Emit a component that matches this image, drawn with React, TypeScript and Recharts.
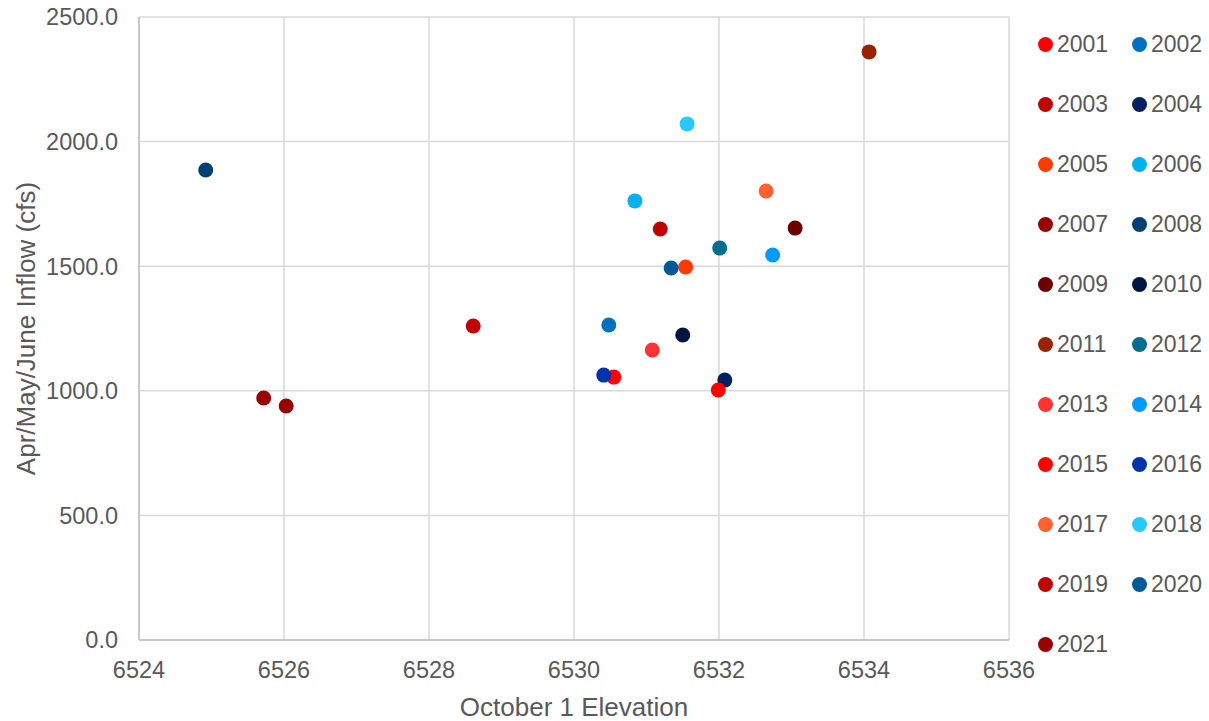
import React from "react";
import {
  ScatterChart,
  Scatter,
  XAxis,
  YAxis,
  CartesianGrid,
  Legend,
} from "recharts";

const years = [
  "2001", "2002", "2003", "2004", "2005", "2006", "2007", "2008", "2009", "2010",
  "2011", "2012", "2013", "2014", "2015", "2016", "2017", "2018", "2019", "2020", "2021",
];
const elevation = [
  6530.55, 6530.48, 6528.61, 6532.08, 6531.54, 6530.84, 6525.72, 6524.92, 6533.05, 6531.5,
  6534.07, 6532.01, 6531.08, 6532.74, 6531.99, 6530.41, 6532.65, 6531.56, 6531.19, 6531.34, 6526.03,
];
const inflow = [
  1055, 1264, 1260, 1043, 1497, 1762, 971, 1886, 1653, 1224,
  2360, 1573, 1164, 1545, 1003, 1063, 1802, 2071, 1649, 1493, 939,
];
const colors = [
  "#FF0000", "#0070C0", "#C00000", "#002060", "#FF3A00", "#00B0F0", "#990000", "#004070", "#6B0000", "#001540",
  "#992200", "#006C8E", "#FF3333", "#0099FF", "#FF0000", "#0033AA", "#FF6133", "#29C8FF", "#C00000", "#005A9A", "#990000",
];
const xTicks = [6524, 6526, 6528, 6530, 6532, 6534, 6536];
const yTicks = [0, 500, 1000, 1500, 2000, 2500];

const FONT = "'Liberation Sans', Arial, sans-serif";
const TEXT = "#595959";

const renderLegend = () => (
  <div style={{ position: "relative", width: 179, height: 660, fontFamily: FONT }}>
    {years.map((yr, i) => {
      const col = i % 2;
      const row = Math.floor(i / 2);
      return (
        <div
          key={yr}
          style={{
            position: "absolute",
            left: col * 94,
            top: row * 60,
            height: 24,
            display: "flex",
            alignItems: "center",
            whiteSpace: "nowrap",
          }}
        >
          <span
            style={{
              display: "inline-block",
              width: 15,
              height: 15,
              borderRadius: "50%",
              background: colors[i],
              marginRight: 4,
            }}
          />
          <span style={{ fontSize: 23, color: TEXT, lineHeight: "24px" }}>{yr}</span>
        </div>
      );
    })}
  </div>
);

export default function App() {
  return (
    <div style={{ position: "absolute", left: 0, top: 0, width: 1209, height: 721, background: "#fff" }}>
      <ScatterChart
        width={1209}
        height={721}
        margin={{ top: 17, right: 200, bottom: 0, left: 0 }}
        style={{ fontFamily: FONT }}
      >
        <CartesianGrid stroke="#D9D9D9" strokeWidth={1.5} />
        <XAxis
          type="number"
          dataKey="x"
          domain={[6524, 6536]}
          ticks={xTicks}
          allowDataOverflow
          height={81}
          tickLine={false}
          tickSize={0}
          tickMargin={21}
          axisLine={{ stroke: "#BFBFBF", strokeWidth: 1.5 }}
          tick={{ fill: TEXT, fontSize: 23.5 }}
          label={{
            value: "October 1 Elevation",
            position: "insideBottom",
            offset: 5,
            style: { fill: TEXT, fontSize: 26, textAnchor: "middle" },
          }}
        />
        <YAxis
          type="number"
          dataKey="y"
          domain={[0, 2500]}
          ticks={yTicks}
          allowDataOverflow
          width={139}
          tickLine={false}
          tickSize={0}
          tickMargin={21}
          axisLine={{ stroke: "#BFBFBF", strokeWidth: 1.5 }}
          tick={{ fill: TEXT, fontSize: 23.5 }}
          tickFormatter={(v: number) => v.toFixed(1)}
          label={{
            value: "Apr/May/June Inflow (cfs)",
            angle: -90,
            position: "insideLeft",
            offset: 26,
            style: { fill: TEXT, fontSize: 26, textAnchor: "middle" },
          }}
        />
        <Legend
          layout="horizontal"
          verticalAlign="middle"
          align="center"
          content={renderLegend}
          wrapperStyle={{ position: "absolute", left: 1038, top: 32, width: 179, height: 660 }}
        />
        {years.map((yr, i) => (
          <Scatter
            key={yr}
            name={yr}
            data={[{ x: elevation[i], y: inflow[i] }]}
            fill={colors[i]}
            isAnimationActive={false}
            shape={(props: any) => <circle cx={props.cx} cy={props.cy} r={7.5} fill={colors[i]} />}
          />
        ))}
      </ScatterChart>
    </div>
  );
}
